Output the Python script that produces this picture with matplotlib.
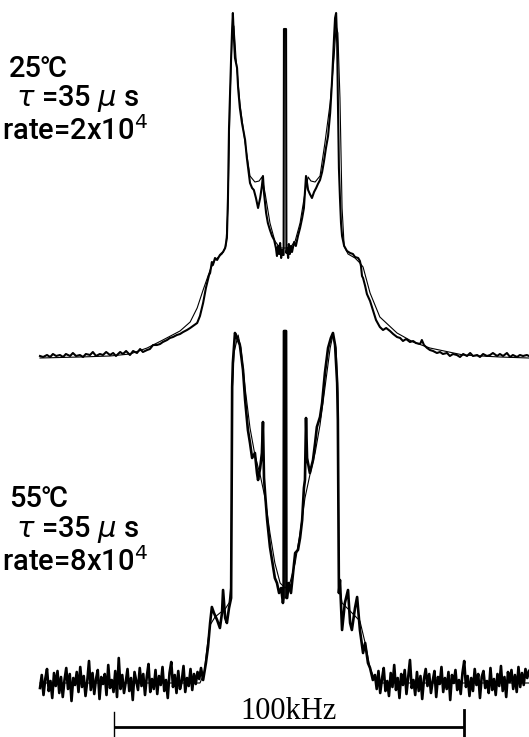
import numpy as np
import matplotlib
matplotlib.use("Agg")
import matplotlib.pyplot as plt

# ---------------- data (frequency in kHz, intensity in arbitrary units) ----------------
# 25 C spectrum, experimental
top_exp_khz = [-70.0, -69.1, -68.0, -67.1, -66.3, -65.4, -64.3, -63.4, -62.6, -61.4, -60.6, -59.7,
               -58.6, -57.7, -56.9, -55.7, -54.9, -54.0, -52.9, -52.0, -51.1, -50.0, -49.1, -48.3,
               -47.1, -46.3, -45.4, -44.3, -43.4, -42.3, -41.4, -40.6, -39.4, -38.6, -37.7, -36.6,
               -35.7, -34.9, -33.7, -32.9, -32.0, -30.9, -30.0, -29.1, -28.0, -27.1, -26.3, -25.1,
               -24.3, -23.4, -22.6, -21.7, -21.4, -21.1, -20.9, -20.6, -20.0, -19.4, -18.6, -17.7,
               -17.1, -16.6, -16.3, -16.0, -15.7, -15.4, -15.1, -14.9, -14.6, -14.3, -13.7, -13.4,
               -12.9, -12.3, -11.4, -10.9, -10.0, -9.4, -8.9, -8.3, -7.7, -7.1, -6.6, -6.3, -6.0,
               -5.4, -4.9, -4.3, -3.7, -3.1, -2.6, -2.3, -2.0, -1.7, -1.4, -1.1, -0.9, -0.6, -0.4,
               -0.3, 0.3, 0.4, 0.6, 0.9, 1.1, 1.4, 1.7, 2.0, 2.6, 3.1, 3.7, 4.3, 4.9, 5.4, 6.0, 6.6,
               7.1, 7.7, 8.3, 8.9, 9.4, 10.0, 10.6, 11.1, 11.7, 12.3, 12.9, 13.4, 14.0, 14.3, 14.6,
               14.9, 15.1, 15.4, 15.7, 16.0, 16.3, 16.9, 17.7, 18.6, 19.4, 20.0, 20.9, 21.4, 21.7,
               22.0, 22.3, 22.9, 23.4, 24.3, 25.1, 26.0, 27.1, 28.0, 28.9, 30.0, 30.9, 32.0, 32.9,
               33.7, 34.6, 35.7, 36.6, 37.4, 38.6, 39.1, 39.7, 40.6, 41.4, 42.3, 43.4, 44.3, 45.1,
               46.3, 47.1, 48.0, 49.1, 50.0, 50.9, 52.0, 52.9, 53.7, 54.9, 55.7, 56.6, 57.7, 58.6,
               59.4, 60.6, 61.4, 62.3, 63.4, 64.3, 65.1, 66.3, 67.1, 68.0, 69.1, 69.7]
top_exp_int = [2, 1, 3, 1, 4, 2, 3, 1, 4, 2, 5, 2,
               3, 1, 4, 3, 6, 2, 4, 3, 6, 3, 5, 2,
               6, 4, 7, 3, 7, 5, 9, 6, 8, 9, 13, 13,
               14, 16, 18, 20, 21, 23, 24, 26, 28, 30, 32, 35,
               42, 55, 70, 83, 85, 92, 96, 93, 100, 98, 103, 106,
               110, 120, 160, 230, 265, 300, 330, 345, 320, 300, 290, 270,
               250, 235, 218, 200, 175, 170, 168, 160, 150, 160, 172, 182, 165,
               145, 135, 128, 122, 118, 110, 102, 112, 104, 115, 100, 108, 103, 103,
               329, 329, 105, 110, 100, 114, 104, 112, 106, 116, 112, 122, 130, 140, 150, 182, 168,
               164, 160, 166, 170, 174, 178, 186, 196, 210, 222, 245, 275, 320, 340, 345,
               315, 260, 190, 160, 135, 122, 112, 107, 105, 104, 101, 100, 97, 92,
               82, 80, 72, 64, 57, 48, 38, 31, 28, 30, 27, 24, 21, 20,
               17, 19, 16, 17, 15, 14, 18, 13, 10, 8, 7, 5, 6, 4,
               5, 2, 4, 3, 1, 4, 2, 5, 2, 3, 1, 4, 2, 3,
               5, 2, 4, 2, 5, 1, 3, 1, 3, 2, 3, 2]

# 25 C spectrum, simulated fit
top_fit_khz = [-70.0, -58.6, -50.0, -44.3, -39.4, -34.9, -30.0, -27.1, -25.1, -23.4, -21.4, -20.0,
               -18.0, -16.9, -16.3, -15.7, -15.1, -14.6, -14.0, -12.9, -11.4, -10.0, -8.6, -7.4,
               -6.6, -5.7, -4.3, -2.9, -1.4, 0.0, 1.4, 2.9, 4.3, 5.7, 6.6, 7.4, 8.6, 10.0, 11.4,
               12.9, 14.0, 14.6, 15.1, 15.7, 16.3, 16.9, 18.0, 20.0, 21.4, 22.3, 24.3, 27.1, 32.0,
               36.6, 41.4, 50.9, 61.4, 69.7]
top_fit_int = [0, 1, 2, 4, 10, 18, 27, 36, 50, 68, 88, 98,
               104, 112, 150, 260, 325, 332, 300, 255, 215, 182, 176, 177,
               181, 165, 135, 117, 110, 110, 110, 117, 135, 165, 181, 177, 176, 182, 215,
               255, 300, 332, 325, 260, 150, 112, 104, 100, 95, 91, 65, 41, 25,
               16, 10, 3, 1, 0]

# 55 C spectrum, experimental: noisy baseline (left, right) and central pattern
bot_noise_left = [-5, 8, -12, 4, 14, -8, 2, -15, 10, -3, 12, -10, 6, -14, 3, 15, -6, 9, -18, 5,
                  -2, 11, -9, 16, -4, 7, -13, 2, 22, -7, 10, -11, 4, 13, -16, 6, -1, 9, -12, 18,
                  -5, 3, -9, 12, -14, 25, -6, 8, -10, 1, 14, -8, 5, -17, 11, 2, -7, 15, -3, 9,
                  -12, 6, 19, -9, 4, -6, 13, -11, 7, -2, 16, -8, 3, -15, 10, 21, -4, 8, -10, 12,
                  -6, 2, 17, -9, 5, -3, 14, -7, 9, -1, 11, 4, 15]
bot_mid_khz = [-23.4, -22.6, -22.0, -21.4, -20.9, -20.3, -19.4, -18.6, -18.0, -17.7, -17.1, -16.6,
               -16.0, -15.4, -15.1, -14.9, -14.3, -13.7, -12.9, -12.0, -11.4, -10.6, -10.0, -9.4,
               -8.6, -8.0, -7.7, -7.1, -6.6, -6.3, -6.0, -5.7, -5.1, -4.3, -3.4, -2.9, -2.3, -1.7,
               -1.1, -0.6, -0.4, -0.3, 0.3, 0.4, 0.6, 1.1, 1.7, 2.3, 2.9, 3.7, 4.3, 4.9, 5.4, 5.7,
               6.0, 6.3, 7.1, 8.0, 8.6, 9.1, 10.0, 10.6, 11.4, 12.3, 13.1, 13.7, 14.3, 14.9, 15.1,
               15.4, 15.7, 16.3, 17.1, 18.0, 18.6, 19.1, 20.0, 20.6, 21.4, 22.3, 22.9, 23.7, 24.3,
               25.1]
bot_mid_int = [3, 20, 36, 60, 76, 70, 63, 55, 70, 93, 65, 60,
               75, 85, 296, 320, 350, 345, 338, 313, 283, 253, 240, 225,
               230, 210, 203, 215, 230, 261, 205, 190, 163, 136, 116, 105, 100, 90,
               95, 80, 85, 352, 352, 85, 85, 100, 90, 110, 130, 133, 145, 163, 195, 203,
               265, 225, 210, 223, 240, 256, 266, 280, 310, 335, 345, 350, 338, 300, 263,
               90, 103, 53, 80, 93, 60, 53, 75, 86, 53, 30, 40, 20, 15,
               3]
bot_noise_right = [8, -6, 12, -10, 4, 15, -8, 2, -13, 10, -4, 18, -7, 5, -15, 9, -2, 13, -11, 6,
                   23, -5, 3, -12, 11, -8, 7, -16, 4, 14, -3, 9, -10, 2, 12, -14, 6, -1, 16, -9,
                   5, -6, 11, -17, 8, 0, 13, -7, 3, -11, 10, 22, -4, 7, -13, 5, -8, 14, -2, 9,
                   -15, 6, 12, -5, 2, -10, 15, -7, 4, -12, 9, -3, 17, -8, 6, -14, 11, 1, 13, -6,
                   8, -9, 16, -4, 10, -2, 14, 5, 12]
noise_left_range = (-70.0, -24.0)
noise_right_range = (25.7, 69.7)

# 55 C spectrum, simulated fit
bot_fit_khz = [-70.0, -24.3, -23.1, -22.3, -21.4, -20.0, -18.6, -17.1, -16.0, -15.4, -15.1, -14.6,
               -13.4, -12.6, -11.4, -10.0, -8.6, -7.1, -5.7, -4.3, -2.9, -1.4, 0.0, 1.4, 2.9, 4.3,
               5.7, 7.1, 8.6, 10.0, 11.4, 12.9, 13.7, 14.6, 15.1, 15.4, 16.3, 18.6, 21.4, 22.9,
               24.3, 25.7, 27.1, 69.7]
bot_fit_int = [0, 0, 10, 35, 58, 66, 70, 74, 80, 100, 290, 330,
               348, 335, 295, 255, 228, 208, 185, 150, 120, 100, 95, 100, 120, 150,
               185, 208, 230, 258, 295, 335, 348, 335, 290, 100, 80, 72, 62, 40,
               15, 3, 0, 0]

scale_bar_khz = [-49.0, 51.0]
scale_label = "100kHz"
labels_top = ["25\u2103", r" $\tau$ =35 $\mu$ s", "rate=2x10$^4$"]
labels_bot = ["55\u2103", r" $\tau$ =35 $\mu$ s", "rate=8x10$^4$"]

# ---------------- figure ----------------
W, H = 529, 737
fig = plt.figure(figsize=(W / 100, H / 100), dpi=100)
ax = fig.add_axes([0, 0, 1, 1])
ax.set_xlim(-81.43, 69.71)
ax.set_ylim(0, 737)
ax.axis("off")

top_base = 379
bot_base = 54

# fits (thin)
ax.plot(top_fit_khz, top_base + np.array(top_fit_int), color="black", lw=0.8)
ax.plot(bot_fit_khz, bot_base + np.array(bot_fit_int), color="black", lw=0.8)

# experiments (thick)
ax.plot(top_exp_khz, top_base + np.array(top_exp_int), color="black", lw=1.5)

nl = np.linspace(noise_left_range[0], noise_left_range[1], len(bot_noise_left))
nr = np.linspace(noise_right_range[0], noise_right_range[1], len(bot_noise_right))
bot_khz = np.concatenate([nl, bot_mid_khz, nr])
bot_int = np.concatenate([bot_noise_left, bot_mid_int, bot_noise_right])
ax.plot(bot_khz, bot_base + bot_int, color="black", lw=1.9)

# scale bar
ax.plot(scale_bar_khz, [10, 10], color="black", lw=2.0, solid_capstyle="butt")
ax.plot([scale_bar_khz[0]] * 2, [0, 25], color="black", lw=1.0)
ax.plot([scale_bar_khz[1]] * 2, [0, 27], color="black", lw=2.0)
ax.text(np.mean(scale_bar_khz) - 0.1, 18, scale_label, ha="center", va="baseline",
        fontsize=22, family=["Liberation Serif", "DejaVu Serif"])

fam = ["Roboto", "DejaVu Sans", "Noto Sans CJK JP"]
for lab, yb in zip(labels_top, [77, 106, 140]):
    fig.text(2 / W if lab.startswith("rate") else 9 / W, 1 - yb / H, lab,
             fontsize=21, family=fam, va="baseline", ha="left", fontweight="medium")
for lab, yb in zip(labels_bot, [507, 537, 571]):
    fig.text(2 / W if lab.startswith("rate") else 9 / W, 1 - yb / H, lab,
             fontsize=21, family=fam, va="baseline", ha="left", fontweight="medium")

fig.savefig("out.png", dpi=100)
